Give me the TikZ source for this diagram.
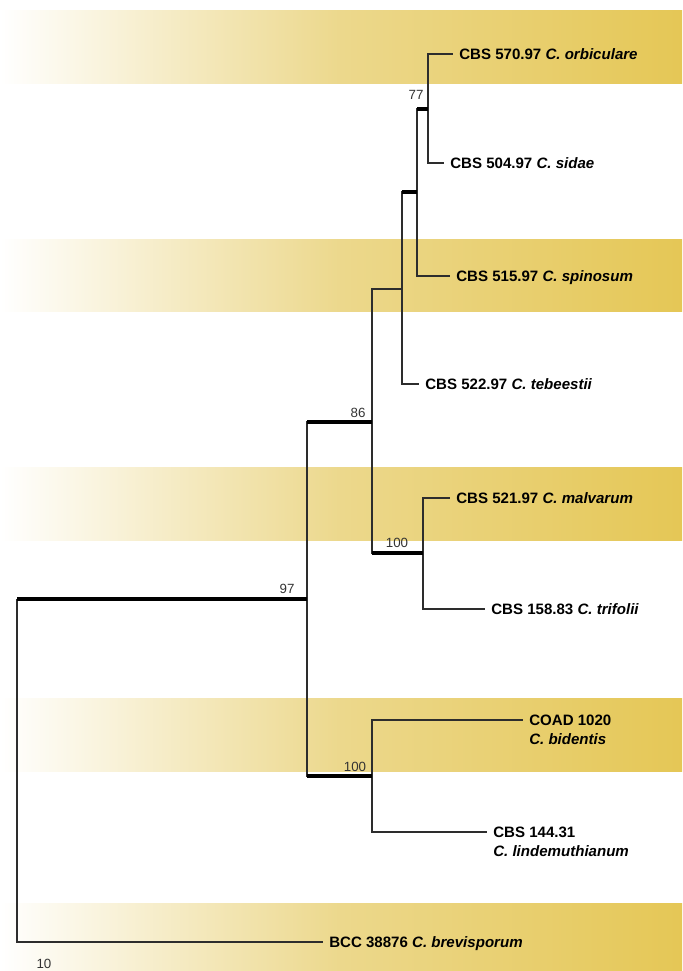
\documentclass[tikz,border=0pt]{standalone}
\usepackage{fontspec}
\setmainfont{Liberation Sans}
\usetikzlibrary{positioning,calc}

\definecolor{bandgold}{RGB}{229,199,86}
\definecolor{bandmid}{RGB}{236,216,140}
\definecolor{branchgray}{RGB}{45,45,45}

% two-line taxon label, hung from its first line
\newcommand{\twoline}[2]{\vtop{\hbox{#1}\hbox{#2}}}

\begin{document}
\begin{tikzpicture}[
    x=0.75pt, y=-0.75pt,
    band/.style={left color=white, right color=bandgold, middle color=bandmid},
    leaf/.style={anchor=west, inner xsep=4.5pt, inner ysep=0pt, text height=8.1pt, text depth=0pt, font=\fontsize{11.3}{14.5}\selectfont\bfseries},
    boot/.style={inner sep=0pt, text=black!80, font=\fontsize{10}{12}\selectfont},
    branch/.style={draw=branchgray, line width=0.8pt},
    stem/.style={draw=black, line width=2.6pt},
]
\useasboundingbox (0,0) rectangle (682,971);

% Shaded bands
\shade[band] (0,10) rectangle (682,83);
\shade[band] (0,239) rectangle (682,311);
\shade[band] (0,467) rectangle (682,540);
\shade[band] (0,698) rectangle (682,771);
\shade[band] (0,903) rectangle (682,971);

% Internal nodes
\coordinate (root) at (17,599);
\coordinate (n97) at (307,599);
\coordinate (n86) at (372,422);
\coordinate (nspi) at (402,289);
\coordinate (nsid) at (417,192);
\coordinate (n77) at (428,109);
\coordinate (n100m) at (423,553);
\coordinate (n100b) at (372,776);

% Taxa
\node[leaf] (orb) at (453,54) {CBS 570.97 \textit{C. orbiculare}};
\node[leaf] (sid) at (444,163) {CBS 504.97 \textit{C. sidae}};
\node[leaf] (spi) at (450,276) {CBS 515.97 \textit{C. spinosum}};
\node[leaf] (teb) at (419,384) {CBS 522.97 \textit{C. tebeestii}};
\node[leaf] (mal) at (450,498) {CBS 521.97 \textit{C. malvarum}};
\node[leaf] (tri) at (485,609) {CBS 158.83 \textit{C. trifolii}};
\node[leaf] (bid) at (523,720) {\twoline{COAD 1020}{\textit{C. bidentis}}};
\node[leaf] (lin) at (487,832) {\twoline{CBS 144.31}{\textit{C. lindemuthianum}}};
\node[leaf] (bre) at (323,942) {BCC 38876 \textit{C. brevisporum}};

% Branches
\draw[branch] (n77) |- (orb.west) (n77) |- (sid.west);
\draw[branch] (nsid) |- (n77) (nsid) |- (spi.west);
\draw[stem] (nsid |- n77) -- (n77);
\draw[branch] (nspi) |- (nsid) (nspi) |- (teb.west);
\draw[stem] (nspi |- nsid) -- (nsid);
\draw[branch] (n100m) |- (mal.west) (n100m) |- (tri.west);
\draw[branch] (n86) |- (nspi) (n86) |- (n100m);
\draw[stem] (n86 |- n100m) -- (n100m);
\draw[branch] (n100b) |- (bid.west) (n100b) |- (lin.west);
\draw[branch] (n97) |- (n86) (n97) |- (n100b);
\draw[stem] (n97 |- n86) -- (n86);
\draw[stem] (n97 |- n100b) -- (n100b);
\draw[branch] (root) |- (bre.west);
\draw[stem] (root) -- (n97);

% Bootstrap support
\node[boot] (b77) at (416,95) {77};
\node[boot] (b86) at (358,413) {86};
\node[boot] (b97) at (287,589) {97};
\node[boot] (b100m) at (397,543) {100};
\node[boot] (b100b) at (355,767) {100};

% Scale
\node[boot] (scale) at (44,964) {10};

\end{tikzpicture}
\end{document}
